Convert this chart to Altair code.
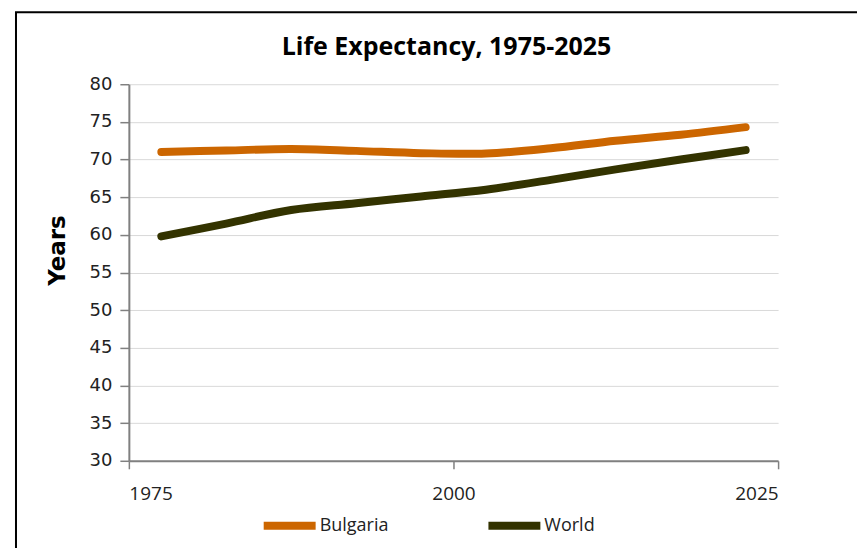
import altair as alt
import pandas as pd

years = [1977.5, 1982.5, 1987.5, 1992.5, 1997.5, 2002.5, 2007.5, 2012.5, 2017.5, 2022.5]
bulgaria = [71.0, 71.2, 71.4, 71.15, 70.85, 70.8, 71.5, 72.5, 73.3, 74.3]
world = [59.8, 61.5, 63.3, 64.2, 65.1, 66.0, 67.3, 68.7, 70.0, 71.25]
series = ["Bulgaria", "World"]
colors = ["#CC6600", "#333300"]
x_ticks = [1975, 2000, 2025]
y_ticks = [30, 35, 40, 45, 50, 55, 60, 65, 70, 75, 80]

df = pd.DataFrame({
    "year": years * 2,
    "value": bulgaria + world,
    "series": [series[0]] * len(years) + [series[1]] * len(years),
})

frame = alt.Chart(pd.DataFrame({"d": [0]})).mark_rect(
    fill=None, stroke="black", strokeWidth=2
).encode(
    x=alt.value(-113), x2=alt.value(900), y=alt.value(-72), y2=alt.value(700)
)

lines = alt.Chart(df).mark_line(
    strokeWidth=8, strokeCap="round", interpolate="catmull-rom"
).encode(
    x=alt.X("year:Q", scale=alt.Scale(domain=[1975, 2025], nice=False, zero=False),
            axis=alt.Axis(values=x_ticks, format="d", title=None, grid=False,
                          labelFont="Open Sans", labelFontSize=19, labelColor="#222222",
                          tickSize=8, labelPadding=16, domainColor="#808080",
                          tickColor="#808080", domainWidth=2, tickWidth=1.5)),
    y=alt.Y("value:Q", scale=alt.Scale(domain=[30, 80], nice=False, zero=False),
            axis=alt.Axis(values=y_ticks, title="Years", grid=True, gridColor="#d9d9d9",
                          labelFont="DejaVu Sans", labelFontSize=18, labelColor="#222222",
                          tickSize=9, labelPadding=8, domainColor="#808080",
                          tickColor="#808080", domainWidth=2, tickWidth=1.5,
                          titleFont="DejaVu Sans", titleFontSize=23, titleFontWeight="bold",
                          titleColor="#000000", titleAngle=-90, titleX=-64, titleY=166,
                          titleBaseline="alphabetic", titleAlign="center")),
    color=alt.Color("series:N", scale=alt.Scale(domain=series, range=colors),
                    legend=alt.Legend(title=None, orient="none", direction="horizontal",
                                      legendX=131, legendY=412, symbolType="stroke",
                                      symbolSize=2704, symbolStrokeWidth=8,
                                      labelFont="Open Sans", labelFontSize=18,
                                      labelColor="#222222", labelOffset=0,
                                      columnPadding=84)),
)

chart = alt.layer(frame, lines).properties(
    width=650, height=377,
    background="white",
    view=alt.ViewBackground(stroke="transparent", strokeWidth=0),
    autosize=alt.AutoSizeParams(type="none"),
    padding={"left": 121, "top": 76, "right": 79, "bottom": 87},
    title=alt.Title("Life Expectancy, 1975-2025", font="Open Sans", fontSize=25,
                    fontWeight="bold", color="#000000", anchor="middle", dx=-7,
                    offset=0, dy=69, baseline="alphabetic"),
).configure_view(strokeWidth=0, stroke="transparent")

chart.save("out.html", embed_options={"renderer": "svg", "actions": False})
